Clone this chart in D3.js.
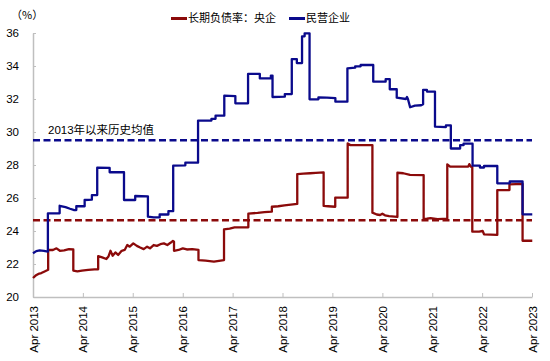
<!DOCTYPE html>
<html>
<head>
<meta charset="utf-8">
<script src="https://cdn.jsdelivr.net/npm/d3@7"></script>
<style>
  html, body { margin: 0; padding: 0; background: #fff; }
  svg { display: block; font-family: "Liberation Sans", Arial, "Noto Sans CJK SC", sans-serif; }
</style>
</head>
<body>
<svg id="chart" width="550" height="361"></svg>
<script>
// ---------- data ----------
const seriesNames = ["长期负债率：央企", "民营企业"];
const yTickValues = [20, 22, 24, 26, 28, 30, 32, 34, 36];
const xTickDates = ["2013-04-01","2014-04-01","2015-04-01","2016-04-01","2017-04-01","2018-04-01","2019-04-01","2020-04-01","2021-04-01","2022-04-01","2023-04-01"];
const avgLabel = "2013年以来历史均值";
const unitLabel = "（%）";
const privateAvg = 29.5;
const soeAvg = 24.65;

const privateDates = ["2013-04-01","2013-04-25","2013-05-20","2013-06-20","2013-07-19","2013-07-19","2013-10-13","2013-10-13","2013-11-25","2013-12-28","2014-01-28","2014-02-12","2014-02-12","2014-04-14","2014-04-14","2014-06-06","2014-06-06","2014-07-15","2014-07-15","2014-10-14","2014-10-14","2015-01-27","2015-01-27","2015-04-19","2015-04-19","2015-07-21","2015-07-21","2015-09-01","2015-10-15","2015-10-15","2015-12-18","2015-12-18","2016-01-22","2016-01-22","2016-04-20","2016-04-20","2016-07-22","2016-07-22","2016-10-28","2016-10-28","2016-11-27","2016-11-27","2017-01-30","2017-01-30","2017-04-21","2017-04-21","2017-07-23","2017-07-23","2017-10-17","2017-10-17","2018-01-06","2018-01-06","2018-01-18","2018-01-18","2018-04-18","2018-04-18","2018-06-08","2018-06-08","2018-07-15","2018-07-15","2018-08-22","2018-08-22","2018-09-10","2018-09-10","2018-10-16","2018-10-16","2018-12-20","2018-12-20","2019-02-20","2019-04-23","2019-04-23","2019-07-20","2019-07-20","2019-09-15","2019-09-15","2019-10-25","2019-10-25","2020-01-25","2020-01-25","2020-04-25","2020-04-25","2020-05-25","2020-05-25","2020-07-15","2020-07-15","2020-09-20","2020-09-28","2020-10-05","2020-10-21","2020-11-25","2021-01-10","2021-01-24","2021-01-24","2021-02-21","2021-02-21","2021-04-21","2021-04-21","2021-07-10","2021-07-10","2021-08-15","2021-08-15","2021-10-22","2021-10-22","2021-11-16","2021-11-16","2022-01-21","2022-01-21","2022-03-16","2022-03-16","2022-04-15","2022-04-15","2022-07-21","2022-07-21","2022-10-20","2022-10-20","2023-01-22","2023-01-22","2023-04-03"];
const privateValues = [22.65,22.78,22.82,22.8,22.75,25.07,25.07,25.53,25.45,25.35,25.27,25.27,25.5,25.5,25.88,25.9,26.18,26.18,27.84,27.82,27.56,27.56,25.88,25.88,26.12,26.1,24.87,24.82,24.82,25.0,25.0,25.2,25.2,27.96,27.98,28.14,28.14,30.69,30.69,30.8,30.8,30.99,30.99,32.2,32.18,31.74,31.74,33.52,33.52,33.25,33.25,33.42,33.42,32.12,32.14,32.3,32.3,34.42,34.42,34.18,34.18,35.8,35.8,35.98,35.98,31.98,31.98,32.1,32.08,32.05,31.84,31.84,33.86,33.9,33.98,33.98,34.06,34.06,33.05,33.05,33.2,33.2,32.59,32.59,32.08,32.0,32.12,32.0,31.5,31.6,31.62,31.68,32.55,32.55,32.45,32.45,30.32,30.3,30.4,30.4,29.0,29.0,29.2,29.2,29.29,29.29,27.96,27.96,27.85,27.85,27.94,27.94,26.89,26.89,27.0,27.0,25.01,25.01];

const soeDates = ["2013-04-01","2013-04-20","2013-05-10","2013-06-01","2013-06-25","2013-07-21","2013-07-21","2013-08-25","2013-09-20","2013-10-15","2013-11-15","2013-12-20","2014-01-21","2014-01-21","2014-02-20","2014-03-25","2014-05-10","2014-06-25","2014-07-22","2014-07-22","2014-08-20","2014-09-20","2014-10-05","2014-10-20","2014-11-05","2014-11-25","2014-12-15","2015-01-10","2015-02-01","2015-02-20","2015-03-10","2015-04-05","2015-05-01","2015-05-25","2015-06-20","2015-07-15","2015-08-05","2015-09-01","2015-09-25","2015-10-20","2015-11-15","2015-12-10","2016-01-05","2016-01-20","2016-01-28","2016-01-28","2016-03-01","2016-04-01","2016-05-01","2016-06-10","2016-07-25","2016-07-25","2016-09-15","2016-11-15","2017-01-28","2017-01-28","2017-03-10","2017-04-15","2017-07-25","2017-07-25","2017-10-01","2017-11-20","2018-01-13","2018-01-13","2018-03-01","2018-04-15","2018-06-01","2018-07-18","2018-07-18","2018-09-01","2018-10-20","2018-12-01","2019-01-27","2019-01-27","2019-03-01","2019-04-22","2019-04-22","2019-07-22","2019-07-22","2019-08-10","2019-10-30","2020-01-19","2020-01-19","2020-02-20","2020-03-15","2020-04-01","2020-04-20","2020-05-20","2020-07-20","2020-07-20","2020-09-01","2020-10-20","2021-01-28","2021-01-28","2021-02-20","2021-03-20","2021-05-10","2021-07-20","2021-07-20","2021-08-10","2021-12-20","2021-12-28","2022-01-08","2022-01-19","2022-01-19","2022-03-10","2022-04-05","2022-04-15","2022-07-21","2022-07-21","2022-10-18","2022-10-18","2023-01-22","2023-01-22","2023-04-03"];
const soeValues = [21.15,21.3,21.4,21.45,21.55,21.65,22.85,22.85,22.95,22.8,22.82,22.9,22.88,21.6,21.55,21.6,21.64,21.67,21.68,22.48,22.4,22.3,22.45,22.8,22.5,22.7,22.55,22.8,22.85,23.15,23.05,23.25,23.1,23.0,22.9,23.05,22.95,23.15,23.1,23.2,23.25,23.15,23.3,23.4,23.35,22.8,22.85,22.95,22.88,22.9,22.85,22.24,22.2,22.15,22.24,24.1,24.15,24.22,24.22,25.05,25.1,25.15,25.17,25.47,25.5,25.55,25.6,25.64,27.45,27.48,27.5,27.52,27.55,25.52,25.5,25.47,26.02,26.02,29.31,29.21,29.21,29.21,25.11,25.0,24.97,25.05,24.95,24.9,24.85,27.53,27.5,27.4,27.39,24.73,24.75,24.78,24.72,24.75,28.04,27.9,27.9,28.05,27.9,27.9,23.96,23.96,24.0,23.8,23.76,26.48,26.48,26.83,26.85,23.41,23.41];

// ---------- layout ----------
const colors = { soe: "#8B0A0A", priv: "#0A0A8C", axis: "#bfbfbf", text: "#000" };
const parse = d3.timeParse("%Y-%m-%d");
const svg = d3.select("#chart");
const plotLeft = 33, plotRight = 532, plotTop = 33, plotBottom = 297;

const x = d3.scaleTime()
  .domain([parse("2013-04-01"), parse("2023-04-01")])
  .range([plotLeft, plotRight]);
const y = d3.scaleLinear().domain([20, 36]).range([plotBottom, plotTop]);

// axes
const xAxis = d3.axisBottom(x)
  .tickValues(xTickDates.map(parse))
  .tickFormat(d3.timeFormat("%b %Y"))
  .tickSizeInner(-4).tickSizeOuter(0);
const gx = svg.append("g").attr("transform", `translate(0,${plotBottom})`).call(xAxis);
gx.select(".domain").attr("stroke", colors.axis).attr("stroke-width", 1.5);
gx.selectAll(".tick line").attr("stroke", colors.axis);
gx.selectAll(".tick text")
  .attr("transform", "rotate(-90)")
  .attr("text-anchor", "end")
  .attr("x", -9).attr("y", 0).attr("dy", "0.35em")
  .attr("font-size", "11.5px").attr("fill", colors.text)
  .attr("font-family", "'Liberation Sans', Arial, sans-serif");

const yAxis = d3.axisLeft(y).tickValues(yTickValues).tickFormat(d3.format("d"))
  .tickSizeInner(-3).tickSizeOuter(0).tickPadding(14);
const gy = svg.append("g").attr("transform", `translate(${plotLeft},0)`).call(yAxis);
gy.select(".domain").attr("stroke", colors.axis).attr("stroke-width", 1.5);
gy.selectAll(".tick line").attr("stroke", colors.axis);
gy.selectAll(".tick text").attr("font-size", "11.5px").attr("fill", colors.text)
  .attr("font-family", "'Liberation Sans', Arial, sans-serif");

// unit label
svg.append("text").attr("x", 11).attr("y", 19).attr("font-size", "11px")
  .attr("fill", colors.text).attr("font-family", "'Noto Sans CJK SC', sans-serif").text(unitLabel);

// average lines
svg.append("line").attr("x1", plotLeft).attr("x2", plotRight)
  .attr("y1", y(privateAvg)).attr("y2", y(privateAvg))
  .attr("stroke", colors.priv).attr("stroke-width", 2.5).attr("stroke-dasharray", "7,3.5");
svg.append("line").attr("x1", plotLeft).attr("x2", plotRight)
  .attr("y1", y(soeAvg)).attr("y2", y(soeAvg))
  .attr("stroke", colors.soe).attr("stroke-width", 2.5).attr("stroke-dasharray", "7,3.5");
svg.append("text").attr("x", 48).attr("y", y(privateAvg) - 6)
  .attr("font-size", "11.5px").attr("fill", colors.text)
  .attr("font-family", "'Liberation Sans', 'Noto Sans CJK SC', sans-serif").text(avgLabel);

// series
const line = d3.line().x(d => x(d[0])).y(d => y(d[1]));
const privData = privateDates.map((d, i) => [parse(d), privateValues[i]]);
const soeData = soeDates.map((d, i) => [parse(d), soeValues[i]]);

svg.append("path").datum(soeData).attr("d", line)
  .attr("fill", "none").attr("stroke", colors.soe).attr("stroke-width", 2.3).attr("stroke-linejoin", "round");
svg.append("path").datum(privData).attr("d", line)
  .attr("fill", "none").attr("stroke", colors.priv).attr("stroke-width", 2.3).attr("stroke-linejoin", "round");

// legend
const legend = [
  { name: seriesNames[0], color: colors.soe, x: 171 },
  { name: seriesNames[1], color: colors.priv, x: 289 }
];
const lg = svg.append("g");
legend.forEach(l => {
  lg.append("line").attr("x1", l.x).attr("x2", l.x + 16).attr("y1", 18.5).attr("y2", 18.5)
    .attr("stroke", l.color).attr("stroke-width", 3);
  lg.append("text").attr("x", l.x + 17).attr("y", 18.5).attr("dy", "0.36em")
    .attr("font-size", "11px").attr("fill", colors.text)
    .attr("font-family", "'Noto Sans CJK SC', sans-serif").text(l.name);
});
</script>
</body>
</html>
